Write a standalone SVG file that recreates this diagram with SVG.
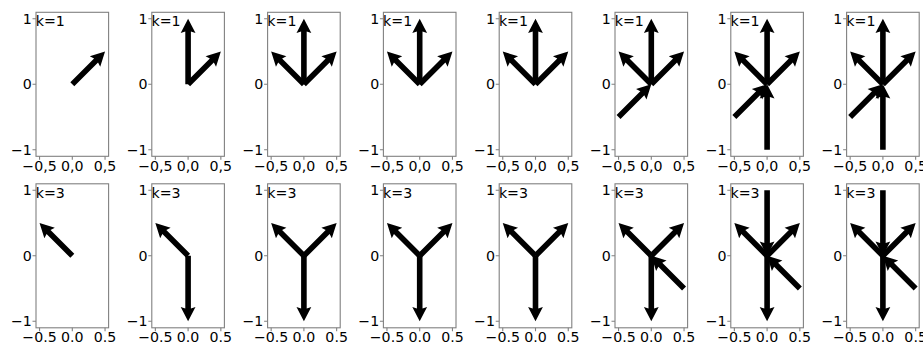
<svg xmlns="http://www.w3.org/2000/svg" xmlns:xlink="http://www.w3.org/1999/xlink" width="923" height="344" viewBox="0 0 923 344">
<style>
text{font-family:"DejaVu Sans","Liberation Sans",sans-serif;font-size:14.2px;fill:#000}
.yl{text-anchor:end}
.xl{text-anchor:middle}
.fr{fill:none;stroke:#808080;stroke-width:1.1}
.ar{fill:#000;stroke:none}
</style>
<defs>
<g id="frame">
<rect class="fr" x="-36.3" y="-72" width="72.6" height="144"/>
<path class="fr" d="M-32.75,72V75.5M0,72V75.5M32.75,72V75.5M-39.8,-65.5H-36.3M-39.8,0H-36.3M-39.8,65.5H-36.3"/>
</g>
<path id="ad" class="ar" d="M0,-2.8H33.6L32.1,-7.4L46.32,0L32.1,7.4L33.6,2.8H0Z"/>
<path id="av" class="ar" d="M0,-2.8H52.8L51.3,-7.4L65.5,0L51.3,7.4L52.8,2.8H0Z"/>
<use id="ur" href="#ad" transform="rotate(-45)"/>
<use id="ul" href="#ad" transform="rotate(-135)"/>
<use id="up" href="#av" transform="rotate(-90)"/>
<use id="dn" href="#av" transform="rotate(90)"/>
<use id="inLL" href="#ad" transform="translate(-32.75,32.75) rotate(-45)"/>
<use id="inB" href="#av" transform="translate(0,65.5) rotate(-90)"/>
<use id="inLR" href="#ad" transform="translate(32.75,32.75) rotate(-135)"/>
<use id="inT" href="#av" transform="translate(0,-65.5) rotate(90)"/>
</defs>
<rect width="923" height="344" fill="#fff"/>

<!-- Top row k=1 -->
<g id="top1" transform="translate(72.3,84.3)">
<use href="#frame"/>
<text class="yl" x="-40.5" y="-60.5">1</text><text class="yl" x="-40.5" y="5">0</text><text class="yl" x="-40.5" y="70.5">−1</text>
<text class="xl" x="-32.75" y="86.5">−0,5</text><text class="xl" x="0" y="86.5">0,0</text><text class="xl" x="32.75" y="86.5">0,5</text>
<text x="-36.6" y="-58">k=1</text>
<g class="arrows"><use href="#ur"/></g>
</g>
<g id="top2" transform="translate(188.1,84.3)">
<use href="#frame"/>
<text class="yl" x="-40.5" y="-60.5">1</text><text class="yl" x="-40.5" y="5">0</text><text class="yl" x="-40.5" y="70.5">−1</text>
<text class="xl" x="-32.75" y="86.5">−0,5</text><text class="xl" x="0" y="86.5">0,0</text><text class="xl" x="32.75" y="86.5">0,5</text>
<text x="-36.6" y="-58">k=1</text>
<g class="arrows"><use href="#up"/><use href="#ur"/></g>
</g>
<g id="top3" transform="translate(303.9,84.3)">
<use href="#frame"/>
<text class="yl" x="-40.5" y="-60.5">1</text><text class="yl" x="-40.5" y="5">0</text><text class="yl" x="-40.5" y="70.5">−1</text>
<text class="xl" x="-32.75" y="86.5">−0,5</text><text class="xl" x="0" y="86.5">0,0</text><text class="xl" x="32.75" y="86.5">0,5</text>
<text x="-36.6" y="-58">k=1</text>
<g class="arrows"><use href="#ul"/><use href="#up"/><use href="#ur"/></g>
</g>
<g id="top4" transform="translate(419.7,84.3)">
<use href="#frame"/>
<text class="yl" x="-40.5" y="-60.5">1</text><text class="yl" x="-40.5" y="5">0</text><text class="yl" x="-40.5" y="70.5">−1</text>
<text class="xl" x="-32.75" y="86.5">−0,5</text><text class="xl" x="0" y="86.5">0,0</text><text class="xl" x="32.75" y="86.5">0,5</text>
<text x="-36.6" y="-58">k=1</text>
<g class="arrows"><use href="#ul"/><use href="#up"/><use href="#ur"/></g>
</g>
<g id="top5" transform="translate(535.5,84.3)">
<use href="#frame"/>
<text class="yl" x="-40.5" y="-60.5">1</text><text class="yl" x="-40.5" y="5">0</text><text class="yl" x="-40.5" y="70.5">−1</text>
<text class="xl" x="-32.75" y="86.5">−0,5</text><text class="xl" x="0" y="86.5">0,0</text><text class="xl" x="32.75" y="86.5">0,5</text>
<text x="-36.6" y="-58">k=1</text>
<g class="arrows"><use href="#ul"/><use href="#up"/><use href="#ur"/></g>
</g>
<g id="top6" transform="translate(651.3,84.3)">
<use href="#frame"/>
<text class="yl" x="-40.5" y="-60.5">1</text><text class="yl" x="-40.5" y="5">0</text><text class="yl" x="-40.5" y="70.5">−1</text>
<text class="xl" x="-32.75" y="86.5">−0,5</text><text class="xl" x="0" y="86.5">0,0</text><text class="xl" x="32.75" y="86.5">0,5</text>
<text x="-36.6" y="-58">k=1</text>
<g class="arrows"><use href="#ul"/><use href="#up"/><use href="#ur"/><use href="#inLL"/></g>
</g>
<g id="top7" transform="translate(767.1,84.3)">
<use href="#frame"/>
<text class="yl" x="-40.5" y="-60.5">1</text><text class="yl" x="-40.5" y="5">0</text><text class="yl" x="-40.5" y="70.5">−1</text>
<text class="xl" x="-32.75" y="86.5">−0,5</text><text class="xl" x="0" y="86.5">0,0</text><text class="xl" x="32.75" y="86.5">0,5</text>
<text x="-36.6" y="-58">k=1</text>
<g class="arrows"><use href="#ul"/><use href="#up"/><use href="#ur"/><use href="#inLL"/><use href="#inB"/></g>
</g>
<g id="top8" transform="translate(882.9,84.3)">
<use href="#frame"/>
<text class="yl" x="-40.5" y="-60.5">1</text><text class="yl" x="-40.5" y="5">0</text><text class="yl" x="-40.5" y="70.5">−1</text>
<text class="xl" x="-32.75" y="86.5">−0,5</text><text class="xl" x="0" y="86.5">0,0</text><text class="xl" x="32.75" y="86.5">0,5</text>
<text x="-36.6" y="-58">k=1</text>
<g class="arrows"><use href="#ul"/><use href="#up"/><use href="#ur"/><use href="#inLL"/><use href="#inB"/></g>
</g>

<!-- Bottom row k=3 -->
<g id="bot1" transform="translate(72.3,255.8)">
<use href="#frame"/>
<text class="yl" x="-40.5" y="-60.5">1</text><text class="yl" x="-40.5" y="5">0</text><text class="yl" x="-40.5" y="70.5">−1</text>
<text class="xl" x="-32.75" y="86.5">−0.5</text><text class="xl" x="0" y="86.5">0.0</text><text class="xl" x="32.75" y="86.5">0.5</text>
<text x="-36.6" y="-58">k=3</text>
<g class="arrows"><use href="#ul"/></g>
</g>
<g id="bot2" transform="translate(188.1,255.8)">
<use href="#frame"/>
<text class="yl" x="-40.5" y="-60.5">1</text><text class="yl" x="-40.5" y="5">0</text><text class="yl" x="-40.5" y="70.5">−1</text>
<text class="xl" x="-32.75" y="86.5">−0.5</text><text class="xl" x="0" y="86.5">0.0</text><text class="xl" x="32.75" y="86.5">0.5</text>
<text x="-36.6" y="-58">k=3</text>
<g class="arrows"><use href="#ul"/><use href="#dn"/></g>
</g>
<g id="bot3" transform="translate(303.9,255.8)">
<use href="#frame"/>
<text class="yl" x="-40.5" y="-60.5">1</text><text class="yl" x="-40.5" y="5">0</text><text class="yl" x="-40.5" y="70.5">−1</text>
<text class="xl" x="-32.75" y="86.5">−0.5</text><text class="xl" x="0" y="86.5">0.0</text><text class="xl" x="32.75" y="86.5">0.5</text>
<text x="-36.6" y="-58">k=3</text>
<g class="arrows"><use href="#ul"/><use href="#ur"/><use href="#dn"/></g>
</g>
<g id="bot4" transform="translate(419.7,255.8)">
<use href="#frame"/>
<text class="yl" x="-40.5" y="-60.5">1</text><text class="yl" x="-40.5" y="5">0</text><text class="yl" x="-40.5" y="70.5">−1</text>
<text class="xl" x="-32.75" y="86.5">−0.5</text><text class="xl" x="0" y="86.5">0.0</text><text class="xl" x="32.75" y="86.5">0.5</text>
<text x="-36.6" y="-58">k=3</text>
<g class="arrows"><use href="#ul"/><use href="#ur"/><use href="#dn"/></g>
</g>
<g id="bot5" transform="translate(535.5,255.8)">
<use href="#frame"/>
<text class="yl" x="-40.5" y="-60.5">1</text><text class="yl" x="-40.5" y="5">0</text><text class="yl" x="-40.5" y="70.5">−1</text>
<text class="xl" x="-32.75" y="86.5">−0.5</text><text class="xl" x="0" y="86.5">0.0</text><text class="xl" x="32.75" y="86.5">0.5</text>
<text x="-36.6" y="-58">k=3</text>
<g class="arrows"><use href="#ul"/><use href="#ur"/><use href="#dn"/></g>
</g>
<g id="bot6" transform="translate(651.3,255.8)">
<use href="#frame"/>
<text class="yl" x="-40.5" y="-60.5">1</text><text class="yl" x="-40.5" y="5">0</text><text class="yl" x="-40.5" y="70.5">−1</text>
<text class="xl" x="-32.75" y="86.5">−0.5</text><text class="xl" x="0" y="86.5">0.0</text><text class="xl" x="32.75" y="86.5">0.5</text>
<text x="-36.6" y="-58">k=3</text>
<g class="arrows"><use href="#ul"/><use href="#ur"/><use href="#dn"/><use href="#inLR"/></g>
</g>
<g id="bot7" transform="translate(767.1,255.8)">
<use href="#frame"/>
<text class="yl" x="-40.5" y="-60.5">1</text><text class="yl" x="-40.5" y="5">0</text><text class="yl" x="-40.5" y="70.5">−1</text>
<text class="xl" x="-32.75" y="86.5">−0.5</text><text class="xl" x="0" y="86.5">0.0</text><text class="xl" x="32.75" y="86.5">0.5</text>
<text x="-36.6" y="-58">k=3</text>
<g class="arrows"><use href="#ul"/><use href="#ur"/><use href="#dn"/><use href="#inLR"/><use href="#inT"/></g>
</g>
<g id="bot8" transform="translate(882.9,255.8)">
<use href="#frame"/>
<text class="yl" x="-40.5" y="-60.5">1</text><text class="yl" x="-40.5" y="5">0</text><text class="yl" x="-40.5" y="70.5">−1</text>
<text class="xl" x="-32.75" y="86.5">−0.5</text><text class="xl" x="0" y="86.5">0.0</text><text class="xl" x="32.75" y="86.5">0.5</text>
<text x="-36.6" y="-58">k=3</text>
<g class="arrows"><use href="#ul"/><use href="#ur"/><use href="#dn"/><use href="#inLR"/><use href="#inT"/></g>
</g>
</svg>
